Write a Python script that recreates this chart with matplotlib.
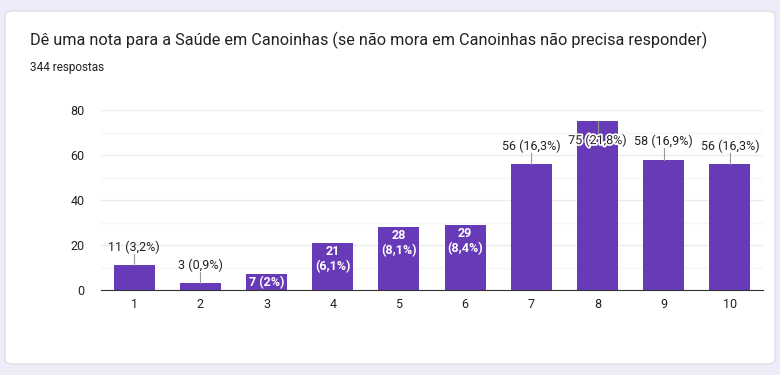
import matplotlib.pyplot as plt
from matplotlib.patches import FancyBboxPatch
import matplotlib.patheffects as pe

plt.rcParams['font.family'] = ['Roboto', 'DejaVu Sans']

# Data
notas = ['1', '2', '3', '4', '5', '6', '7', '8', '9', '10']
respostas = [11, 3, 7, 21, 28, 29, 56, 75, 58, 56]
percent = ['3,2%', '0,9%', '2%', '6,1%', '8,1%', '8,4%', '16,3%', '21,8%', '16,9%', '16,3%']
# where each label is drawn: 'out' above the bar, 'in' inside, 'in2' inside on two lines, 'top' overlapping
label_pos = ['out', 'out', 'in', 'in2', 'in2', 'in2', 'out', 'top', 'out', 'out']

purple = '#673ab7'

fig = plt.figure(figsize=(7.8, 3.75), dpi=100)
fig.patch.set_facecolor('#f0ebf8')

# white card
card = FancyBboxPatch((5 / 780, 11 / 375), 770 / 780, 353 / 375,
                      boxstyle='round,pad=0,rounding_size=0.012',
                      transform=fig.transFigure, facecolor='white',
                      edgecolor='#dadce0', linewidth=0.8, zorder=-5)
fig.patches.append(card)

fig.text(30 / 780, 1 - 40 / 375,
         'Dê uma nota para a Saúde em Canoinhas (se não mora em Canoinhas não precisa responder)',
         fontsize=11.7, color='#202124', va='center', ha='left')
fig.text(30 / 780, 1 - 68 / 375, '344 respostas', fontsize=8.5, color='#202124',
         va='center', ha='left')

ax = fig.add_axes([101 / 780, 85 / 375, 662 / 780, 180 / 375])
ax.set_zorder(2)
ax.set_facecolor('none')
x = list(range(len(notas)))
ax.bar(x, respostas, width=0.62, color=purple, zorder=3)

ax.set_xlim(-0.5, len(notas) - 0.5)
ax.set_ylim(0, 80)
ax.set_yticks([0, 20, 40, 60, 80])
ax.set_yticks([10, 30, 50, 70], minor=True)
ax.grid(axis='y', which='major', color='#ebebeb', linewidth=1, zorder=0)
ax.grid(axis='y', which='minor', color='#f5f5f5', linewidth=1, zorder=0)
ax.set_xticks(x)
ax.set_xticklabels(notas)
ax.tick_params(axis='both', which='both', length=0, labelsize=9, colors='#222222')
ax.tick_params(axis='y', pad=12)
ax.tick_params(axis='x', pad=6)
for s in ['top', 'right', 'left']:
    ax.spines[s].set_visible(False)
ax.spines['bottom'].set_color('#333333')
ax.spines['bottom'].set_zorder(4)

for xi, v, p, pos in zip(x, respostas, percent, label_pos):
    if pos == 'out':
        ax.plot([xi, xi], [v, v + 5], color='#999999', linewidth=0.8, zorder=4)
        ax.text(xi, v + 8, f'{v} ({p})', ha='center', va='center', fontsize=9,
                color='#222222', zorder=5)
    elif pos == 'top':
        ax.plot([xi, xi], [v, v - 5], color='#999999', linewidth=0.8, zorder=4)
        ax.text(xi, v - 8.5, f'{v} ({p})', ha='center', va='center', fontsize=9,
                color='#222222', zorder=5,
                path_effects=[pe.withStroke(linewidth=2.5, foreground='white')])
    elif pos == 'in':
        ax.text(xi, v / 2, f'{v} ({p})', ha='center', va='center', fontsize=9,
                color='white', fontweight='bold', zorder=5)
    else:
        ax.text(xi, v - 1, f'{v}\n({p})', ha='center', va='top', fontsize=9,
                color='white', fontweight='bold', linespacing=1.15, zorder=5)

fig.savefig('out.png', dpi=100, facecolor=fig.get_facecolor())
